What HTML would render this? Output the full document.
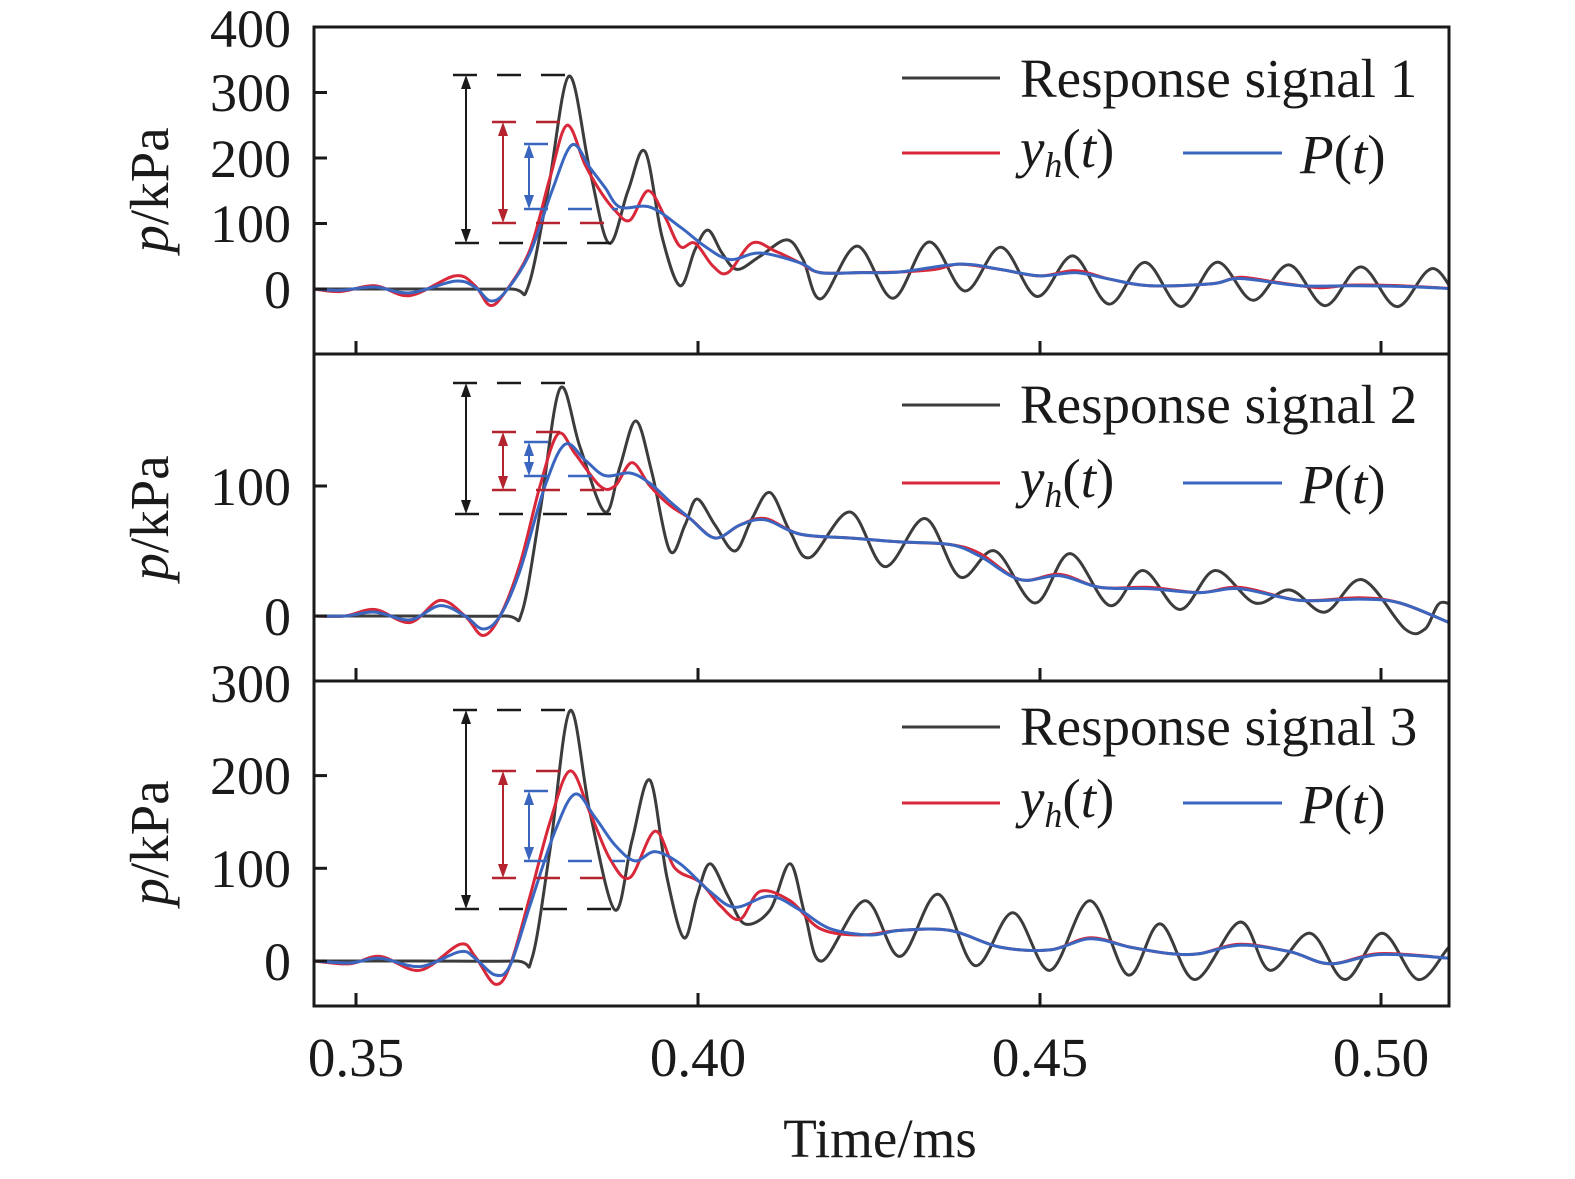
<!DOCTYPE html>
<html><head><meta charset="utf-8"><style>
html,body{margin:0;padding:0;background:#fff}
svg{display:block}
text{font-family:"Liberation Serif",serif;fill:#1a1a1a}
</style></head><body>
<svg id="s" width="1575" height="1179" viewBox="0 0 1575 1179" xmlns="http://www.w3.org/2000/svg">
<g font-size="54" text-anchor="end">
<text x="291" y="47">400</text><text x="291" y="111">300</text><text x="291" y="177">200</text><text x="291" y="242">100</text><text x="291" y="308">0</text>
<text x="291" y="505">100</text><text x="291" y="635">0</text>
<text x="291" y="702">300</text><text x="291" y="794">200</text><text x="291" y="887">100</text><text x="291" y="980">0</text>
</g>
<g font-size="55" text-anchor="middle">
<text x="356" y="1076">0.35</text><text x="698" y="1076">0.40</text><text x="1040" y="1076">0.45</text><text x="1381" y="1076">0.50</text>
<text x="880" y="1157">Time/ms</text>
</g>
<g font-size="55" text-anchor="middle">
<text transform="translate(168,190) rotate(-90)"><tspan font-style="italic">p</tspan>/kPa</text>
<text transform="translate(168,518) rotate(-90)"><tspan font-style="italic">p</tspan>/kPa</text>
<text transform="translate(168,843) rotate(-90)"><tspan font-style="italic">p</tspan>/kPa</text>
</g>
<g id="curves" fill="none" stroke-linejoin="round"></g>
<g id="marks"></g>
<g fill="none" stroke="#1a1a1a" stroke-width="3">
<rect x="314" y="27" width="1135" height="979"/>
<line x1="314" y1="354" x2="1449" y2="354"/><line x1="314" y1="681" x2="1449" y2="681"/>
</g>
<g stroke="#1a1a1a" stroke-width="3" id="ticks"></g>
<g font-size="55">
<text x="1020" y="97">Response signal 1</text>
<text x="1020" y="423">Response signal 2</text>
<text x="1020" y="745">Response signal 3</text>
</g>
<g font-size="55" id="leg"></g>
</svg>
<script>
var NS="http://www.w3.org/2000/svg";
function el(p,t,a,txt){var e=document.createElementNS(NS,t);for(var k in a)e.setAttribute(k,a[k]);if(txt)e.innerHTML=txt;p.appendChild(e);return e;}
var C=document.getElementById('curves'),M=document.getElementById('marks'),T=document.getElementById('ticks'),L=document.getElementById('leg');
var panels=[{z:289,s:0.655,top:27,bot:354},{z:616,s:1.3,top:354,bot:681},{z:961,s:0.927,top:681,bot:1006}];
function osc(start,base,amp,period,end,startPeak){var pts=[];var up=startPeak;for(var x=start;x<=end+period;x+=period/2){var b=base(x),a=amp(x);pts.push([x,b+(up?a:-a)]);up=!up;}return pts;}
function interp(k,x){for(var i=0;i<k.length-1;i++){if(x<=k[i+1][0]){var t=(x-k[i][0])/(k[i+1][0]-k[i][0]);return k[i][1]+t*(k[i+1][1]-k[i][1]);}}return k[k.length-1][1];}
function path(pts,P){var d="";var p=pts.map(function(q){return [q[0],P.z-q[1]*P.s];});
for(var i=0;i<p.length-1;i++){var p0=p[i-1]||p[i],p1=p[i],p2=p[i+1],p3=p[i+2]||p2;
if(i==0)d+="M"+p1[0].toFixed(1)+","+p1[1].toFixed(1);
var c1=[p1[0]+(p2[0]-p0[0])/6,p1[1]+(p2[1]-p0[1])/6],c2=[p2[0]-(p3[0]-p1[0])/6,p2[1]-(p3[1]-p1[1])/6];
d+="C"+c1[0].toFixed(1)+","+c1[1].toFixed(1)+" "+c2[0].toFixed(1)+","+c2[1].toFixed(1)+" "+p2[0].toFixed(1)+","+p2[1].toFixed(1);}
return d;}
function draw(pts,P,col,w){var d=path(pts,P);el(C,'path',{d:d,stroke:col,'stroke-width':w||3,'clip-path':'url(#cp)'});}
var defs=el(document.getElementById('s'),'defs',{});var cp=el(defs,'clipPath',{id:'cp'});el(cp,'rect',{x:314,y:27,width:1135,height:979});
var BK="#3c3c3c",RD="#d8283a",BL="#3a66c0";
var b1=[[800,40],[820,25],[900,26],[960,38],[1040,22],[1100,12],[1150,6],[1200,8],[1240,15],[1300,5],[1400,3],[1460,0]];
var blk1=[[300,0],[313,0],[420,0],[510,0],[528,3],[548,150],[569,325],[590,180],[609,70],[628,150],[645,210],[662,80],[680,5],[695,60],[708,90],[722,55],[737,30],[760,50],[787,75],[803,45]]
 .concat(osc(821,function(x){return interp(b1,x)},function(x){return x<1000?40:(x<1200?34:30)},72,1500,false));
var red1=[[300,0],[313,0],[340,-4],[375,5],[410,-10],[455,20],[475,5],[490,-25],[505,-5],[530,60],[550,170],[567,250],[585,190],[600,150],[615,120],[630,105],[648,150],[665,110],[680,65],[695,70],[713,35],[728,25],[752,70],[775,58],[800,40],[820,25],[860,25],[900,26],[935,30],[960,38],[1000,30],[1040,20],[1076,28],[1110,15],[1150,5],[1212,8],[1240,18],[1277,10],[1320,2],[1350,6],[1400,5],[1460,0]];
var blu1=[[300,0],[313,0],[340,-2],[375,3],[410,-6],[455,12],[475,3],[490,-18],[505,-5],[530,55],[552,150],[572,220],[590,185],[605,155],[620,125],[650,125],[680,95],[705,65],[730,45],[760,55],[800,40],[820,25],[860,25],[900,26],[960,38],[1000,30],[1040,20],[1076,25],[1110,15],[1150,5],[1212,8],[1240,16],[1300,5],[1350,5],[1400,4],[1460,0]];
draw(blk1,panels[0],BK);draw(red1,panels[0],RD);draw(blu1,panels[0],BL);
var blk2=[[300,0],[313,0],[420,0],[505,0],[522,3],[540,80],[560,175],[580,130],[605,80],[620,115],[636,150],[652,110],[670,50],[685,70],[697,90],[715,70],[735,50],[752,75],[770,95],[790,65],[810,45],[850,80],[885,38],[925,75],[960,30],[995,50],[1035,10],[1070,48],[1110,8],[1143,35],[1180,5],[1215,35],[1255,10],[1290,20],[1325,3],[1362,28],[1405,-10],[1425,-10],[1440,10],[1460,5]];
var red2=[[300,0],[313,0],[345,0],[375,5],[410,-5],[440,12],[465,0],[483,-15],[500,0],[520,40],[540,100],[558,140],[575,125],[600,100],[615,100],[632,118],[650,100],[670,85],[690,75],[715,60],[740,70],[765,75],[800,63],[850,60],[900,57],[950,55],[980,48],[1020,28],[1060,32],[1100,22],[1150,22],[1200,18],[1240,22],[1300,12],[1360,14],[1400,10],[1449,-5],[1460,-8]];
var blu2=[[300,0],[313,0],[345,0],[375,3],[410,-3],[440,8],[465,0],[483,-10],[500,0],[520,35],[545,100],[565,132],[585,120],[605,108],[630,110],[650,102],[670,88],[690,75],[715,60],[740,70],[765,74],[800,63],[850,60],[900,57],[950,55],[980,46],[1020,28],[1060,31],[1100,22],[1150,21],[1200,18],[1240,21],[1300,12],[1360,13],[1400,10],[1449,-5],[1460,-8]];
draw(blk2,panels[1],BK);draw(red2,panels[1],RD);draw(blu2,panels[1],BL);
var blk3=[[300,0],[313,0],[420,0],[515,0],[532,3],[550,120],[570,270],[590,160],[615,55],[632,130],[650,195],[667,90],[684,25],[697,70],[710,105],[728,70],[745,40],[770,55],[790,105],[805,50],[822,0],[865,65],[900,5],[938,72],[975,-5],[1013,52],[1050,-10],[1090,65],[1128,-15],[1160,40],[1195,-20],[1240,42],[1270,-10],[1310,30],[1345,-20],[1382,30],[1418,-20],[1449,15],[1460,20]];
var red3=[[300,0],[313,0],[350,-3],[380,5],[420,-10],[460,18],[475,5],[495,-25],[510,-5],[530,70],[550,150],[570,205],[590,160],[610,110],[630,90],[655,140],[675,100],[700,85],[720,60],[740,45],[760,75],[790,65],[820,35],[860,28],[900,33],[950,33],[1000,15],[1050,12],[1090,25],[1130,15],[1170,8],[1200,8],[1240,18],[1290,10],[1330,-3],[1380,8],[1449,3],[1460,2]];
var blu3=[[300,0],[313,0],[350,-2],[380,3],[420,-6],[460,10],[475,3],[495,-15],[510,-5],[530,60],[555,140],[575,180],[595,155],[615,125],[635,108],[655,118],[680,105],[710,75],[735,58],[770,70],[800,55],[830,35],[870,28],[900,33],[950,33],[1000,15],[1050,12],[1090,24],[1130,15],[1170,8],[1200,8],[1240,17],[1290,10],[1330,-3],[1380,7],[1449,3],[1460,2]];
draw(blk3,panels[2],BK);draw(red3,panels[2],RD);draw(blu3,panels[2],BL);
[[0,100,200,300],[0,100],[0,100,200]].forEach(function(ts,i){var P=panels[i];ts.forEach(function(v){var y=P.z-v*P.s;el(T,'line',{x1:314,x2:327,y1:y,y2:y});});
[356,698,1040,1381].forEach(function(x){el(T,'line',{x1:x,x2:x,y1:P.bot,y2:P.bot-13});});});
function hd(y,x1,x2,col){el(M,'line',{x1:x1,x2:x2,y1:y,y2:y,stroke:col,'stroke-width':2.5,'stroke-dasharray':'24,20'});}
function arr(x,y1,y2,col){el(M,'line',{x1:x,x2:x,y1:y1+12,y2:y2-12,stroke:col,'stroke-width':2});
el(M,'polygon',{points:x+","+y1+" "+(x-5)+","+(y1+14)+" "+(x+5)+","+(y1+14),fill:col});
el(M,'polygon',{points:x+","+y2+" "+(x-5)+","+(y2-14)+" "+(x+5)+","+(y2-14),fill:col});}
var DB="#1a1a1a",DR="#b5232f",DL="#3a66c0";
var mk=[[[75,243],[122,223],[144,209],[453,618]],[[383,514],[432,490],[442,476],[453,612]],[[710,909],[771,878],[791,861],[453,625]]];
mk.forEach(function(m){var xe=m[3][1];hd(m[0][0],453,575,DB);hd(m[0][1],455,xe,DB);arr(466,m[0][0],m[0][1],DB);
hd(m[1][0],492,572,DR);hd(m[1][1],492,xe,DR);arr(503,m[1][0],m[1][1],DR);
hd(m[2][0],524,552,DL);hd(m[2][1],524,xe,DL);arr(529,m[2][0],m[2][1],DL);});
[[78,153],[405,483],[727,803]].forEach(function(r){
el(L,'line',{x1:902,x2:1000,y1:r[0],y2:r[0],stroke:BK,'stroke-width':3});
el(L,'line',{x1:902,x2:1000,y1:r[1],y2:r[1],stroke:RD,'stroke-width':3});
el(L,'line',{x1:1183,x2:1282,y1:r[1],y2:r[1],stroke:BL,'stroke-width':3});
el(L,'text',{x:1020,y:r[1]+14},'<tspan font-style="italic">y</tspan><tspan font-style="italic" font-size="36" dy="10">h</tspan><tspan dy="-10">(</tspan><tspan font-style="italic">t</tspan>)');
el(L,'text',{x:1300,y:r[1]+20},'<tspan font-style="italic">P</tspan>(<tspan font-style="italic">t</tspan>)');
});
</script>
</body></html>
